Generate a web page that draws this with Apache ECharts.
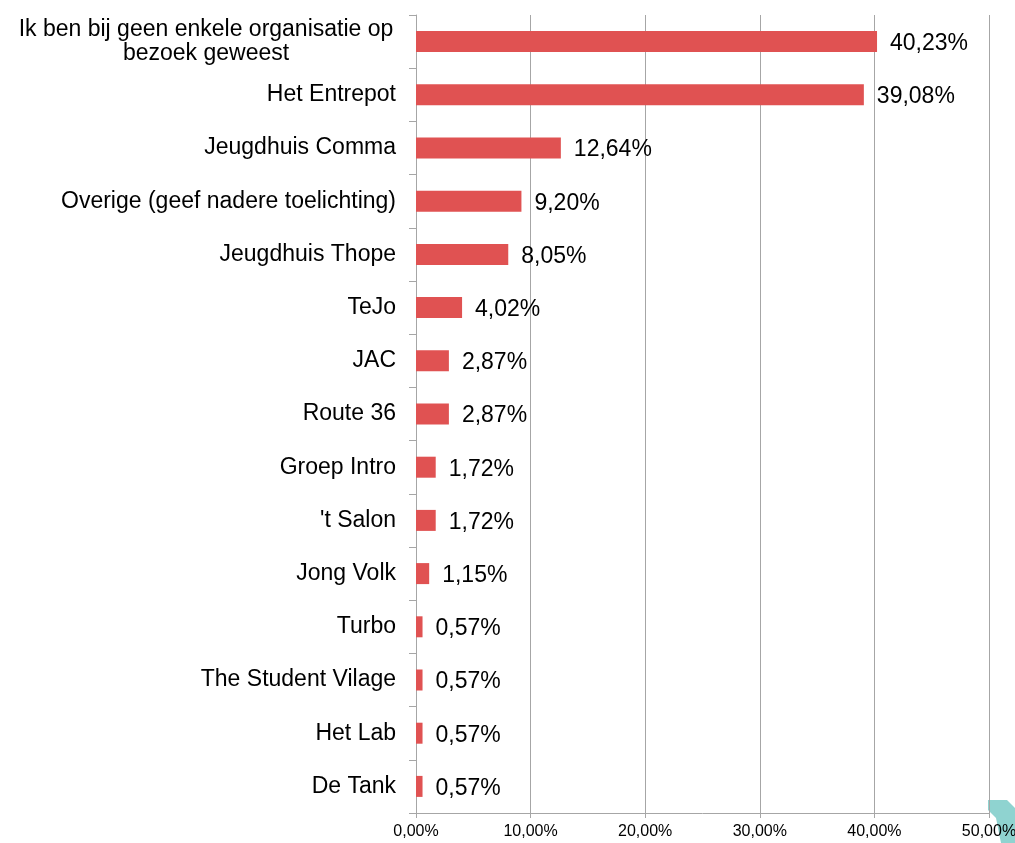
<!DOCTYPE html>
<html>
<head>
<meta charset="utf-8">
<script type="text/javascript" src="https://cdn.jsdelivr.net/npm/echarts@6/dist/echarts.min.js"></script>
<style>
  html, body { margin: 0; padding: 0; background: #fff; }
  #container { width: 1015px; height: 843px; }
</style>
</head>
<body>
<div id="container"></div>
<script type="text/javascript">
// categorieen (van boven naar beneden)
var categories = [
    'Ik ben bij geen enkele organisatie op\nbezoek geweest',
    'Het Entrepot',
    'Jeugdhuis Comma',
    'Overige (geef nadere toelichting)',
    'Jeugdhuis Thope',
    'TeJo',
    'JAC',
    'Route 36',
    'Groep Intro',
    "'t Salon",
    'Jong Volk',
    'Turbo',
    'The Student Vilage',
    'Het Lab',
    'De Tank'
];
// percentages
var values = [40.23, 39.08, 12.64, 9.20, 8.05, 4.02, 2.87, 2.87, 1.72, 1.72, 1.15, 0.57, 0.57, 0.57, 0.57];
var xTicks = [0, 10, 20, 30, 40, 50];

var fontFam = 'Liberation Sans, Arial, sans-serif';

function pct(v) {
    return v.toFixed(2).replace('.', ',') + '%';
}

var myChart = echarts.init(document.getElementById('container'));

var option = {
    animation: false,
    grid: { left: 416, right: 26, top: 15, bottom: 30, containLabel: false, outerBoundsMode: 'none' },
    xAxis: {
        type: 'value',
        min: xTicks[0],
        max: xTicks[xTicks.length - 1],
        interval: 10,
        axisLine: { show: true, lineStyle: { color: '#A6A6A6', width: 1 } },
        axisTick: { show: true, length: 5, lineStyle: { color: '#A6A6A6' } },
        splitLine: { show: true, lineStyle: { color: '#A6A6A6', width: 1 } },
        axisLabel: {
            margin: 11,
            fontFamily: fontFam,
            fontSize: 16,
            color: '#000',
            hideOverlap: false,
            formatter: function (v) { return pct(v); }
        }
    },
    yAxis: {
        type: 'category',
        inverse: true,
        data: categories,
        axisLine: { show: true, lineStyle: { color: '#A6A6A6', width: 1 } },
        axisTick: { show: true, length: 7, lineStyle: { color: '#A6A6A6' } },
        splitLine: { show: false },
        axisLabel: {
            margin: 20,
            fontFamily: fontFam,
            fontSize: 23,
            color: '#000',
            formatter: function (v) {
                if (v.indexOf('\n') >= 0) {
                    var parts = v.split('\n');
                    return parts.map(function (p) { return '{w|' + p + '}'; }).join('\n');
                }
                return v;
            },
            rich: {
                w: { width: 380, align: 'center', fontSize: 23, lineHeight: 24, fontFamily: fontFam, color: '#000' }
            }
        }
    },
    series: [{
        type: 'bar',
        data: values,
        barWidth: 21,
        itemStyle: { color: '#E05252' },
        label: {
            show: true,
            position: 'right',
            distance: 13,
            offset: [0, 2],
            fontFamily: fontFam,
            fontSize: 23,
            color: '#000',
            formatter: function (p) { return pct(p.value); }
        }
    }],
    graphic: [{
        type: 'polygon',
        shape: { points: [[988, 800], [1007, 800], [1015, 808], [1015, 843], [1001, 843], [996, 818], [988, 810]] },
        style: { fill: '#8FD3D0' },
        z: -10
    }]
};

myChart.setOption(option);
</script>
</body>
</html>
